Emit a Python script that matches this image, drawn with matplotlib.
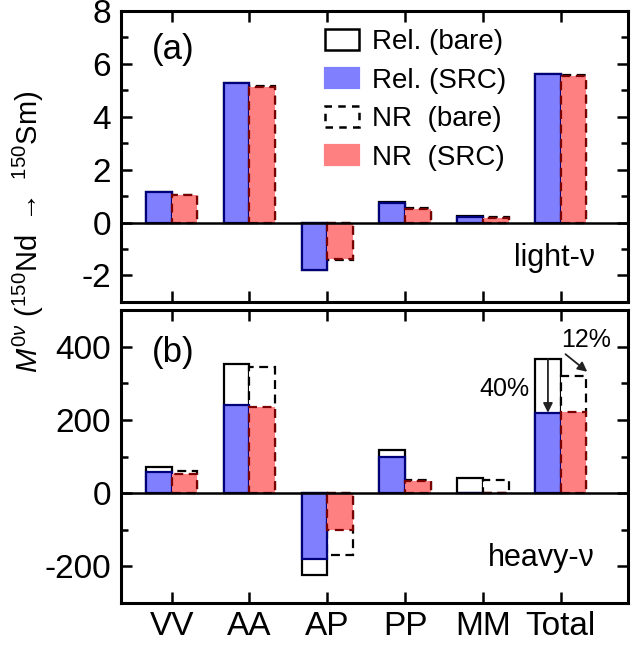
import numpy as np
import matplotlib
matplotlib.use("Agg")
import matplotlib.pyplot as plt
from matplotlib.patches import Patch

plt.rcParams['font.family'] = ['Liberation Sans', 'DejaVu Sans']
plt.rcParams['mathtext.fontset'] = 'custom'
plt.rcParams['mathtext.rm'] = 'Liberation Sans'
plt.rcParams['mathtext.it'] = 'Liberation Sans:italic'

categories = ['VV', 'AA', 'AP', 'PP', 'MM', 'Total']

# light-neutrino exchange
rel_bare_l = [1.16, 5.29, -1.80, 0.76, 0.23, 5.63]
rel_src_l = [1.14, 5.27, -1.78, 0.74, 0.21, 5.60]
nr_bare_l = [1.05, 5.17, -1.40, 0.55, 0.20, 5.57]
nr_src_l = [1.03, 5.14, -1.38, 0.53, 0.18, 5.54]

# heavy-neutrino exchange
rel_bare_h = [73, 353, -222, 118, 42, 366]
rel_src_h = [59, 240, -179, 100, 2, 220]
nr_bare_h = [62, 346, -168, 35, 36, 320]
nr_src_h = [52, 235, -99, 33, 1, 223]

blue_fill = '#8080ff'
blue_edge = '#00007a'
red_fill = '#ff8080'
red_edge = '#7a0000'

x = np.arange(len(categories))
w = 0.33

fig = plt.figure(figsize=(6.31, 6.45), dpi=100)
ax1 = fig.add_axes([0.1918, 0.532, 0.803, 0.451])
ax2 = fig.add_axes([0.1918, 0.065, 0.803, 0.454])


def draw(ax, rb, rs, nb, ns):
    ax.bar(x - w, rb, w, align='edge', facecolor='white', edgecolor='black', lw=1.6, zorder=2)
    ax.bar(x, nb, w, align='edge', facecolor='white', edgecolor='black', lw=1.6,
           linestyle=(0, (4, 2.5)), zorder=2)
    ax.bar(x - w, rs, w, align='edge', facecolor=blue_fill, edgecolor=blue_edge, lw=1.6, zorder=3)
    ax.bar(x, ns, w, align='edge', facecolor=red_fill, edgecolor=red_edge, lw=1.6,
           linestyle=(0, (4, 2.5)), zorder=3)
    ax.axhline(0, color='black', lw=1.8, zorder=4)
    ax.set_xlim(-0.65, 5.86)
    ax.set_xticks(x)
    for s in ax.spines.values():
        s.set_linewidth(2.2)
    ax.tick_params(which='both', direction='in', top=True, right=True, width=1.8, labelsize=24)
    ax.tick_params(which='major', length=8)
    ax.tick_params(which='minor', length=5)
    ax.tick_params(axis='y', pad=7)


draw(ax1, rel_bare_l, rel_src_l, nr_bare_l, nr_src_l)
draw(ax2, rel_bare_h, rel_src_h, nr_bare_h, nr_src_h)

ax1.set_ylim(-3, 8)
ax1.set_yticks([-2, 0, 2, 4, 6, 8])
ax1.set_yticks([-1, 1, 3, 5, 7], minor=True)
ax1.set_yticklabels(['-2', '0', '2', '4', '6', '8'])
ax1.set_xticklabels([])

ax2.set_ylim(-300, 500)
ax2.set_yticks([-200, 0, 200, 400])
ax2.set_yticks([-100, 100, 300], minor=True)
ax2.set_yticklabels(['-200', '0', '200', '400'])
ax2.set_xticklabels(categories)
ax2.tick_params(axis='x', pad=6)

ax1.text(0.06, 0.866, '(a)', transform=ax1.transAxes, fontsize=25, va='center')
ax1.text(0.935, 0.15, 'light-ν', transform=ax1.transAxes, fontsize=22, va='center', ha='right')
ax2.text(0.06, 0.857, '(b)', transform=ax2.transAxes, fontsize=25, va='center')
ax2.text(0.935, 0.154, 'heavy-ν', transform=ax2.transAxes, fontsize=22, va='center', ha='right')

handles = [
    Patch(facecolor='white', edgecolor='black', lw=1.8),
    Patch(facecolor=blue_fill, edgecolor=blue_fill, lw=1.6),
    Patch(facecolor='white', edgecolor='black', lw=1.8, linestyle=(0, (3, 2.5))),
    Patch(facecolor=red_fill, edgecolor=red_fill, lw=1.6),
]
labels = ['Rel. (bare)', 'Rel. (SRC)', 'NR  (bare)', 'NR  (SRC)']
ax1.legend(handles, labels, loc='upper left', bbox_to_anchor=(0.38, 0.975), frameon=False,
           fontsize=20, handlelength=1.25, handleheight=0.75, labelspacing=0.45,
           handletextpad=0.45, borderaxespad=0)

# reduction arrows on Total
xa = x[5] - w / 2
ax2.annotate('', xy=(xa, rel_src_h[5]), xytext=(xa, rel_bare_h[5]),
             arrowprops=dict(arrowstyle='-|>', color='#222222', lw=1.3, mutation_scale=14,
                             shrinkA=0, shrinkB=0), zorder=5)
ax2.text(x[5] - 0.40, 285, '40%', fontsize=18, ha='right', va='center')
ax2.annotate('', xy=(x[5] + 0.34, 332), xytext=(x[5] + 0.06, 380),
             arrowprops=dict(arrowstyle='-|>', color='#222222', lw=1.3, mutation_scale=14,
                             shrinkA=0, shrinkB=0), zorder=5)
ax2.text(x[5] + 0.32, 420, '12%', fontsize=18, ha='center', va='center')

fig.text(0.045, 0.64, r'$M^{0\nu}$ ($^{150}$Nd $\rightarrow$ $^{150}$Sm)',
         rotation=90, fontsize=21, ha='center', va='center')

fig.savefig('out.png', dpi=100)
